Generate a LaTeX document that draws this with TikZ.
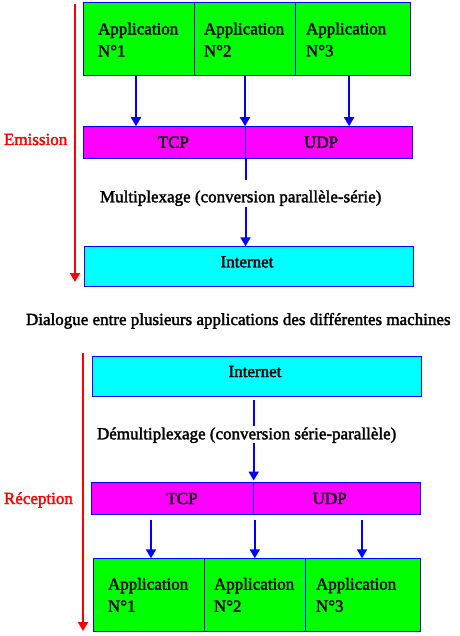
\documentclass[tikz,border=0pt]{standalone}
\usepackage{fontspec}
\setmainfont{Liberation Serif}[FakeBold=2]
\usetikzlibrary{arrows.meta}
\definecolor{vgreen}{RGB}{0,255,0}
\definecolor{vmag}{RGB}{255,0,255}
\definecolor{vcyan}{RGB}{0,255,255}
\definecolor{bblue}{RGB}{0,0,255}
\definecolor{vred}{RGB}{255,0,0}
\begin{document}
\begin{tikzpicture}[x=1pt,y=-1pt,
  font=\fontsize{17}{22}\selectfont,
  box/.style={draw=bblue, line width=1pt, inner sep=0pt, outer sep=0pt, anchor=center},
  appcell/.style={box, fill=vgreen, align=left, inner ysep=0pt, minimum height=73pt},
  protobox/.style={box, fill=vmag, minimum height=32pt},
  netbox/.style={box, fill=vcyan, minimum width=329.4pt, minimum height=40pt},
  plain/.style={anchor=base west, inner sep=0pt, outer sep=0pt},
  flow/.style={draw=bblue, line width=2pt, -{Triangle[width=10pt,length=9pt]}},
  redarrow/.style={draw=vred, line width=1.8pt, -{Triangle[width=10pt,length=9pt]}}
]
\useasboundingbox (0,0) rectangle (459,636);

% ---------- Emission ----------
\node[appcell, minimum width=111.4pt, text width=82pt, inner xsep=14.7pt] (a1) at (139,39.5) {Application\\N°1};
\node[appcell, minimum width=100.6pt, text width=82pt, inner xsep=9.3pt] (a2) at (245,39.5) {Application\\N°2};
\node[appcell, minimum width=115pt, text width=93.6pt, inner xsep=10.7pt] (a3) at (352.8,39.5) {Application\\N°3};

\node[protobox, minimum width=162.2pt] (tcp1) at (164.4,142.2) {\hspace*{18pt}TCP};
\node[protobox, minimum width=167.2pt] (udp1) at (329.1,142.2) {UDP\hspace*{16pt}};

\node[netbox] (inet1) at (249,266.3) {\raisebox{-1pt}[0pt][0pt]{Internet}\hspace*{4pt}};

\node[plain, text height=22pt, text depth=4.7pt] (mux) at (100,202.3) {Multiplexage (conversion parallèle-série)};

\draw[flow] ([xshift=-3pt]a1.south) -- ([xshift=-3pt]a1.south |- tcp1.north);
\draw[flow] (a2.south) -- (a2.south |- tcp1.north);
\draw[flow] ([xshift=-3.7pt]a3.south) -- ([xshift=-3.7pt]a3.south |- udp1.north);

\draw[draw=bblue, line width=2pt] (tcp1.south east) -- (tcp1.south east |- mux.north);
\draw[flow] (tcp1.south east |- mux.south) -- (tcp1.south east |- inet1.north);

\node[plain, text=vred] (emi) at (4,145) {Emission};
\coordinate (r1s) at (75,4);
\coordinate (r1e) at (75,282);
\draw[redarrow] (r1s) -- (r1e);

\node[plain] (dial) at (26,325) {Dialogue entre plusieurs applications des différentes machines};

% ---------- Reception ----------
\node[netbox] (inet2) at (257,376) {\raisebox{-1pt}[0pt][0pt]{Internet}\hspace*{4pt}};

\node[plain, text height=13.3pt, text depth=3.7pt] (dmux) at (97,439.3) {Démultiplexage (conversion série-parallèle)};

\node[protobox, minimum width=162.4pt] (tcp2) at (172.5,498.5) {\hspace*{19pt}TCP};
\node[protobox, minimum width=167pt] (udp2) at (337.2,498.5) {UDP\hspace*{15pt}};

\node[appcell, minimum width=111pt, text width=81.6pt, inner xsep=14.7pt] (b1) at (148.8,594.8) {Application\\N°1};
\node[appcell, minimum width=101pt, text width=81.6pt, inner xsep=9.7pt] (b2) at (254.8,594.8) {Application\\N°2};
\node[appcell, minimum width=115pt, text width=93.6pt, inner xsep=10.7pt] (b3) at (362.8,594.8) {Application\\N°3};

\draw[draw=bblue, line width=2pt, shorten <=4pt] (tcp2.north east |- inet2.south) -- (tcp2.north east |- dmux.north);
\draw[flow, shorten >=2pt] (tcp2.north east |- dmux.south) -- (tcp2.north east);

\draw[flow, shorten <=5pt] ([xshift=2.2pt]b1.north |- tcp2.south) -- ([xshift=2.2pt]b1.north);
\draw[flow, shorten <=5pt] (b2.north |- tcp2.south) -- (b2.north);
\draw[flow, shorten <=5pt] ([xshift=-0.8pt]b3.north |- udp2.south) -- ([xshift=-0.8pt]b3.north);

\node[plain, text=vred] (rec) at (4,504) {Réception};
\coordinate (r2s) at (83,353);
\coordinate (r2e) at (83,631);
\draw[redarrow] (r2s) -- (r2e);
\end{tikzpicture}
\end{document}
